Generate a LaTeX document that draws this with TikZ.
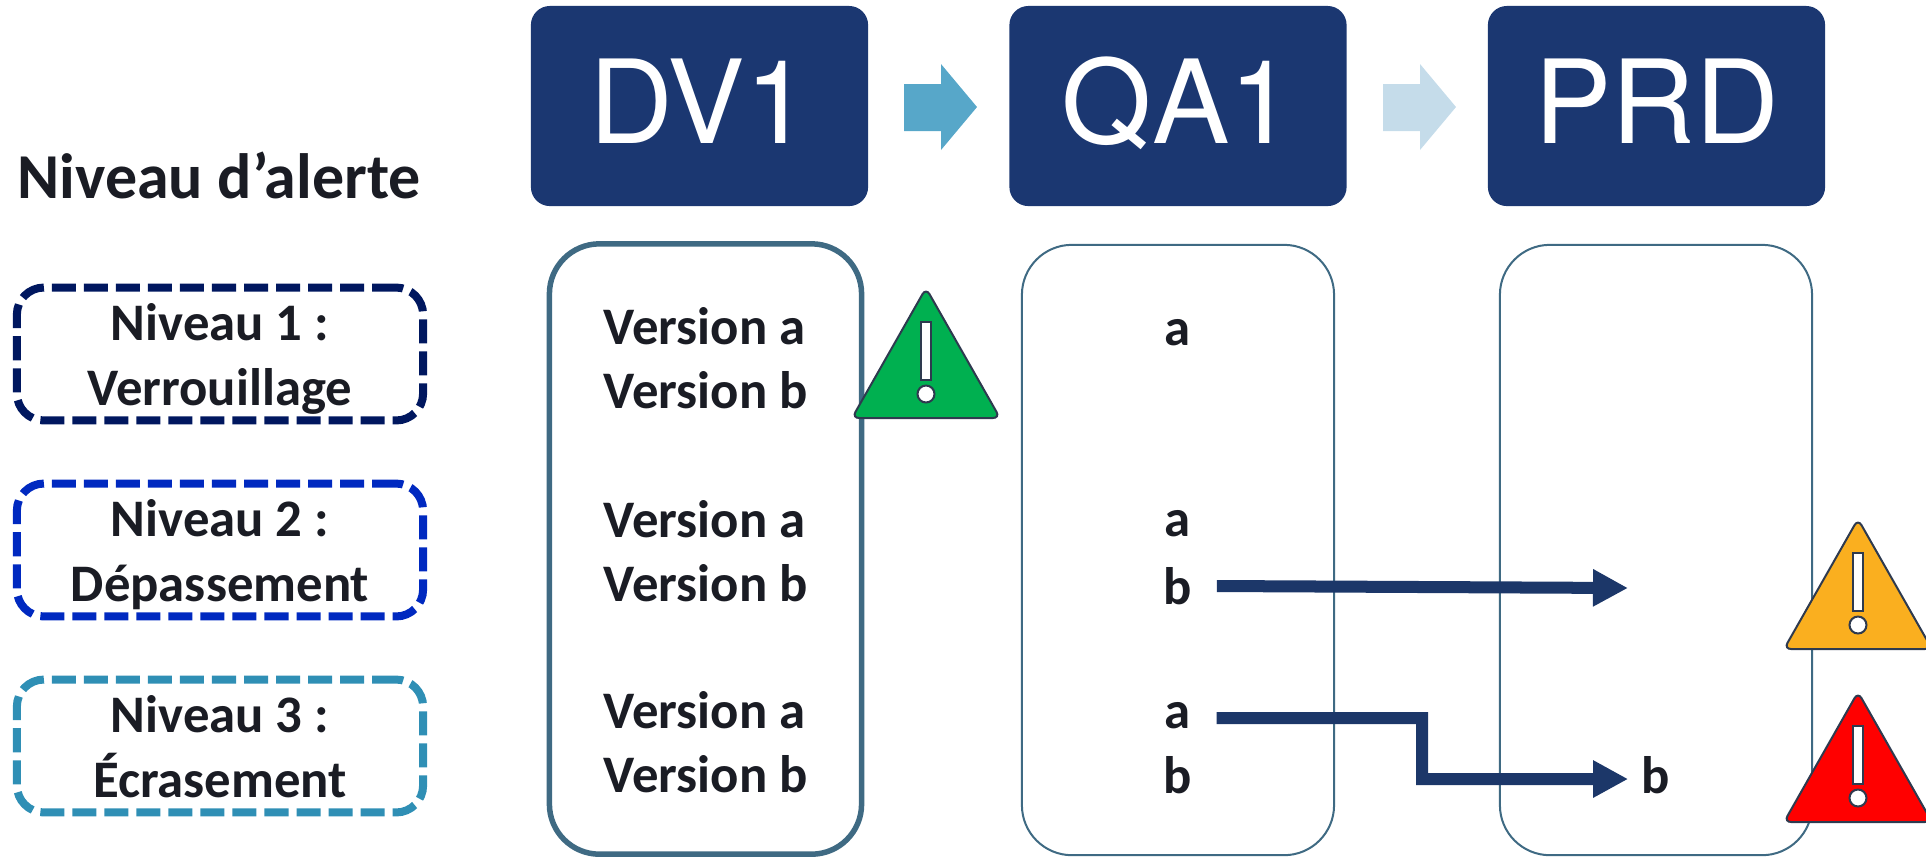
\documentclass[tikz,border=0pt]{standalone}
\usepackage{fontspec}
\setmainfont{Carlito}
\newfontface\entetefont{TeX Gyre Heros}
\usetikzlibrary{arrows.meta}

\definecolor{bleuentete}{HTML}{1B3771}
\definecolor{bleufleche}{HTML}{1C3769}
\definecolor{bleucadre}{HTML}{3F6A83}
\definecolor{encre}{HTML}{1A1C24}
\definecolor{contour}{HTML}{2E3A4F}
\definecolor{teinteun}{HTML}{00175F}
\definecolor{teintedeux}{HTML}{0029C0}
\definecolor{teintetrois}{HTML}{2F8FB5}
\newcommand{\hautligne}{\rule{0pt}{15pt}}

\tikzset{
    entete/.style={fill=bleuentete, rounded corners=0.19cm, minimum width=3.37cm, minimum height=2cm, inner sep=0pt, text=white, text height=0.83cm, text depth=0.09cm, font=\fontsize{33}{33}\entetefont},
    cadre/.style={draw=bleucadre, line width=0.02cm, rounded corners=0.5cm, minimum width=3.12cm, minimum height=6.1cm, inner sep=0pt},
    niveau/.style={draw=#1, line width=0.08cm, dash pattern=on 0.24cm off 0.08cm, rounded corners=0.27cm, minimum width=4.06cm, minimum height=1.3cm, inner sep=0pt, align=center, text=encre, execute at end node=\rule[-4.2pt]{0pt}{5pt}, font=\bfseries\fontsize{15}{18.6}\selectfont},
    etiquette/.style={inner sep=0pt, text=encre, font=\bfseries\fontsize{15}{18.6}\selectfont},
    fleche/.style={-{Triangle[length=0.35cm,width=0.35cm]}, draw=bleufleche, line width=0.12cm}
}

\begin{document}
\begin{tikzpicture}[x=0.01cm, y=-0.01cm]
    \useasboundingbox (0,0) rectangle (1926,856);

    \node[etiquette, font=\bfseries\fontsize{18.2}{22}\selectfont] (titre) at (219,175) {Niveau d’alerte};
    \node[niveau=teinteun] (niveau1) at (220,354) {\hautligne Niveau 1 :\\Verrouillage};
    \node[niveau=teintedeux] (niveau2) at (220,550) {\hautligne Niveau 2 :\\Dépassement};
    \node[niveau=teintetrois] (niveau3) at (220,746) {\hautligne Niveau 3 :\\Écrasement};

    \node[entete] (dv) at (699.5,106) {DV1};
    \node[entete] (qa) at (1178,106) {QA1};
    \node[entete] (prd) at (1656.5,106) {PRD};

    \foreach \x/\c in {904/57A7C9, 1383/C5DCEA} {
        \definecolor{teinte}{HTML}{\c}
        \fill[teinte] (\x,84) -- (\x+37,84) -- (\x+37,64) -- (\x+73,107) -- (\x+37,150) -- (\x+37,131) -- (\x,131) -- cycle;
    }

    \node[cadre, line width=0.055cm] (cadredv) at (705.5,549) {};
    \node[cadre] (cadreqa) at (1178,550) {};
    \node[cadre] (cadreprd) at (1656,550) {};

    \foreach \y/\n in {326/1, 519/2, 710/3} {
        \node[etiquette, anchor=west] (va\n) at (603,\y) {Version a};
        \node[etiquette, anchor=west] (vb\n) at (603,\y+64) {Version b};
    }
    \node[etiquette] (a1) at (1178,333) {a};
    \node[etiquette] (a2) at (1178,524) {a};
    \node[etiquette] (b2) at (1178,586) {b};
    \node[etiquette] (a3) at (1178,716) {a};
    \node[etiquette] (b3) at (1178,775) {b};
    \node[etiquette] (bprd) at (1656,775) {b};

    \coordinate (tip2) at (1628,588);
    \coordinate (coude) at (1422,779);
    \draw[fleche] ([xshift=0.24cm]b2.east) -- (tip2);
    \draw[fleche] ([xshift=0.25cm,yshift=-0.02cm]a3.east) -| (coude) -- ([xshift=-0.13cm,yshift=-0.04cm]bprd.west);

    \foreach \x/\y/\c in {926/292/00B050, 1858/523/FAAF1F, 1858/696/FF0000} {
        \definecolor{teinte}{HTML}{\c}
        \draw[contour, fill=teinte, line width=0.02cm, rounded corners=0.07cm] (\x,\y-4) -- (\x+74,\y+126) -- (\x-74,\y+126) -- cycle;
        \draw[contour, fill=white, line width=0.02cm] (\x-5,\y+30) rectangle (\x+5,\y+88);
        \draw[contour, fill=white, line width=0.02cm] (\x,\y+102) circle [radius=8.5];
    }
\end{tikzpicture}
\end{document}
